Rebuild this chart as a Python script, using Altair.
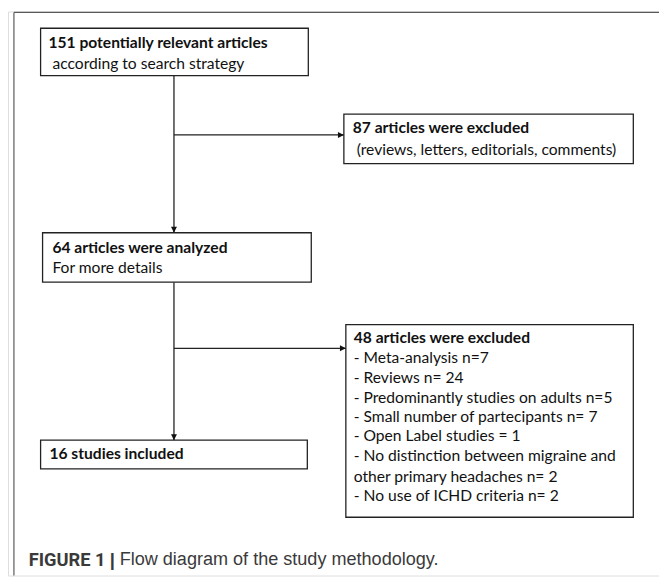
import altair as alt
import pandas as pd

# Box texts
box_texts = [
    "151 potentially relevant articles",
    "according to search strategy",
    "87 articles were excluded",
    "(reviews, letters, editorials, comments)",
    "64 articles were analyzed",
    "For more details",
    "16 studies included",
    "48 articles were excluded",
    "- Meta-analysis n=7",
    "- Reviews n= 24",
    "- Predominantly studies on adults n=5",
    "- Small number of partecipants n= 7",
    "- Open Label studies = 1",
    "- No distinction between migraine and",
    "other primary headaches n= 2",
    "- No use of ICHD criteria n= 2",
]
text_bold = [True, False, True, False, True, False, True, True,
             False, False, False, False, False, False, False, False]
text_x = [49, 53, 357, 361, 53, 53, 50, 358, 358, 358, 358, 358, 358, 358, 358, 358]
text_y = [40, 61, 126, 148, 248, 268, 456, 339, 359, 379, 399, 419, 438, 458, 479, 499]

# Boxes
box_x1 = [41, 348, 43, 41, 350]
box_x2 = [312, 641, 315, 311, 641]
box_y1 = [25, 112, 232, 442, 325]
box_y2 = [73, 162, 282, 471, 520]

# Connector lines
line_x1 = [176, 176, 176, 176]
line_x2 = [176, 348, 176, 350]
line_y1 = [73, 133, 282, 349]
line_y2 = [232, 133, 442, 349]

# Arrow tips
tip_x = [176, 348, 176, 350]
tip_y = [232, 133, 442, 349]
tip_dir = ["down", "right", "down", "right"]

# Caption parts
cap_text = ["FIGURE 1", "|", "Flow diagram of the study methodology."]
cap_font = ["Roboto", "Liberation Sans", "Liberation Sans"]
cap_x = [29, 111, 121]
cap_y = [563, 563, 563]

W, H = 659, 571
xs = alt.Scale(domain=[8, 667], range=[0, W])
ys = alt.Scale(domain=[8, 579], range=[0, H])

def X(f):
    return alt.X(f, type="quantitative", scale=xs, axis=None)

def Y(f):
    return alt.Y(f, type="quantitative", scale=ys, axis=None)

frame_df = pd.DataFrame({"x1": [14, 14], "x2": [667, 14], "y1": [9, 9], "y2": [9, 579]})
frame = alt.Chart(frame_df).mark_rule(color="#5a5a5a", strokeWidth=1.2).encode(
    x=X("x1"), x2="x2", y=Y("y1"), y2="y2")

boxes_df = pd.DataFrame({"x1": box_x1, "x2": box_x2, "y1": box_y1, "y2": box_y2})
boxes = alt.Chart(boxes_df).mark_rect(fill="white", stroke="#222222", strokeWidth=1.3).encode(
    x=X("x1"), x2="x2", y=Y("y1"), y2="y2")

lines_df = pd.DataFrame({"x1": line_x1, "x2": line_x2, "y1": line_y1, "y2": line_y2})
lines = alt.Chart(lines_df).mark_rule(color="#222222", strokeWidth=1.3).encode(
    x=X("x1"), x2="x2", y=Y("y1"), y2="y2")

tips_df = pd.DataFrame({"x": tip_x, "y": tip_y, "d": tip_dir})
down = alt.Chart(tips_df[tips_df.d == "down"]).mark_point(
    shape="M-0.5,-1L0.5,-1L0,0Z", filled=True, size=144, color="#111111", opacity=1).encode(
    x=X("x"), y=Y("y"))
right = alt.Chart(tips_df[tips_df.d == "right"]).mark_point(
    shape="M-1,-0.5L-1,0.5L0,0Z", filled=True, size=144, color="#111111", opacity=1).encode(
    x=X("x"), y=Y("y"))

txt_df = pd.DataFrame({"t": box_texts, "b": text_bold, "x": text_x, "y": text_y})
tb = alt.Chart(txt_df[txt_df.b]).mark_text(
    align="left", baseline="middle", font="Lato", fontSize=15.8, fontWeight="bold", color="#111111").encode(
    x=X("x"), y=Y("y"), text="t:N")
tn = alt.Chart(txt_df[~txt_df.b]).mark_text(
    align="left", baseline="middle", font="Lato", fontSize=15.8, color="#111111").encode(
    x=X("x"), y=Y("y"), text="t:N")

cap_df = pd.DataFrame({"t": cap_text, "x": cap_x, "y": cap_y})
c1 = alt.Chart(cap_df.iloc[[0]]).mark_text(
    align="left", baseline="middle", font=cap_font[0],
    fontSize=18.5, fontWeight="bold", color="#3a3a3a").encode(
    x=X("x"), y=Y("y"), text="t:N")
c2 = alt.Chart(cap_df.iloc[[1]]).mark_text(
    align="left", baseline="middle", font=cap_font[1],
    fontSize=18.5, fontWeight="bold", color="#3a3a3a").encode(
    x=X("x"), y=Y("y"), text="t:N")
c3 = alt.Chart(cap_df.iloc[[2]]).mark_text(
    align="left", baseline="middle", font=cap_font[2], fontSize=18.3, color="#3a3a3a").encode(
    x=X("x"), y=Y("y"), text="t:N")

chart = alt.layer(frame, lines, boxes, down, right, tb, tn, c1, c2, c3).properties(
    width=W, height=H, padding=0, autosize=alt.AutoSizeParams(type="none")
).configure_view(stroke=None).configure(background="white")

chart.save("out.html", embed_options={"renderer": "svg", "actions": False})
